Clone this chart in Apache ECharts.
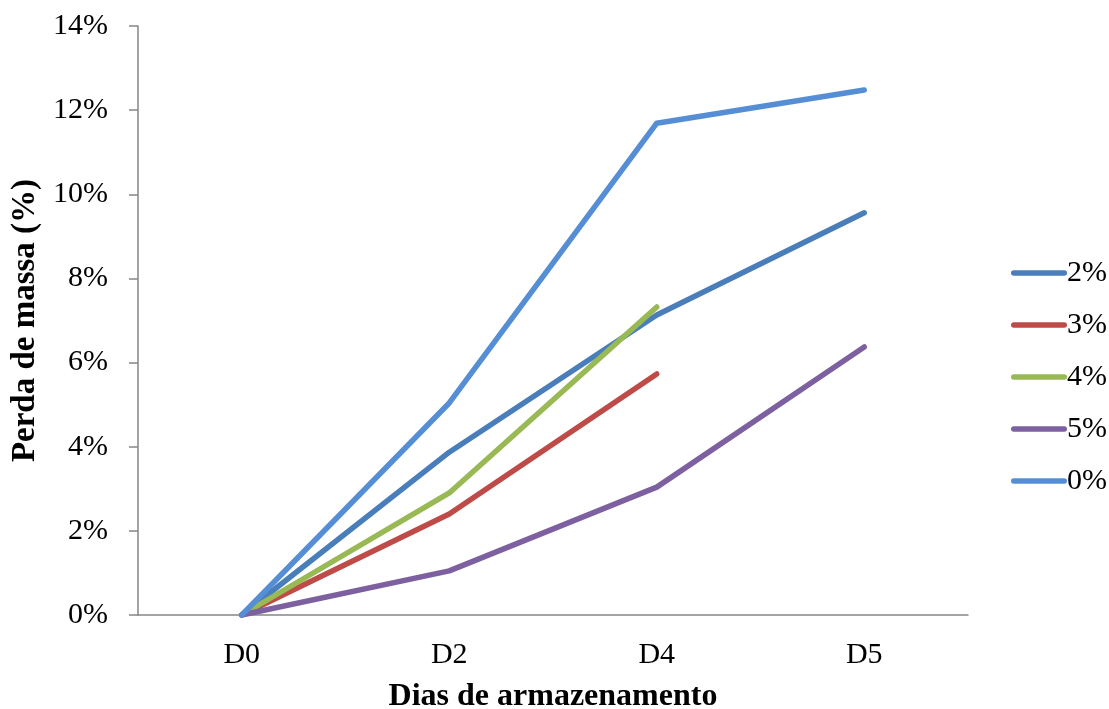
<!DOCTYPE html>
<html>
<head>
<meta charset="utf-8">
<script src="https://cdn.jsdelivr.net/npm/echarts@6/dist/echarts.min.js"></script>
<style>html,body{margin:0;padding:0;background:#fff}#c{width:1109px;height:709px}</style>
</head>
<body>
<div id="c"></div>
<script>
var categories = ['D0', 'D2', 'D4', 'D5'];
var seriesNames = ['2%', '3%', '4%', '5%', '0%'];
var s2 = [0, 3.87, 7.13, 9.56];
var s3 = [0, 2.40, 5.73, null];
var s4 = [0, 2.90, 7.32, null];
var s5 = [0, 1.05, 3.04, 6.37];
var s0 = [0, 5.04, 11.69, 12.48];
var colors = ['#4a7ebb', '#be4b48', '#98b954', '#7d60a0', '#558ed5'];
var values = [s2, s3, s4, s5, s0];

var font = '"Liberation Serif", "Times New Roman", serif';
var chart = echarts.init(document.getElementById('c'), null, {renderer: 'canvas'});
chart.setOption({
  animation: false,
  backgroundColor: '#fff',
  grid: {left: 138, right: 141, top: 26, bottom: 94, containLabel: false, outerBoundsMode: 'none'},
  legend: {
    orient: 'vertical',
    left: 1006,
    top: 253,
    icon: 'path://M2.75,0 L53.25,0 A2.75,2.75 0 0 1 53.25,5.5 L2.75,5.5 A2.75,2.75 0 0 1 2.75,0 Z',
    itemWidth: 56,
    itemHeight: 5.5,
    itemGap: 22,
    textStyle: {fontFamily: font, fontSize: 30, color: '#000', padding: [0, 0, 0, -5]},
    data: seriesNames
  },
  xAxis: {
    type: 'category',
    data: categories,
    boundaryGap: true,
    name: 'Dias de armazenamento',
    nameLocation: 'middle',
    nameGap: 66,
    nameTextStyle: {fontFamily: font, fontSize: 32, fontWeight: 'bold', color: '#000'},
    axisLine: {lineStyle: {color: '#868686', width: 1.5}},
    axisTick: {inside: true, length: 9, lineStyle: {color: '#868686', width: 1.5}},
    axisLabel: {fontFamily: font, fontSize: 30, color: '#000', margin: 25}
  },
  yAxis: {
    type: 'value',
    min: 0, max: 14, interval: 2,
    name: 'Perda de massa (%)',
    nameLocation: 'middle',
    nameGap: 91,
    nameTextStyle: {fontFamily: font, fontSize: 33, fontWeight: 'bold', color: '#000'},
    splitLine: {show: false},
    axisLine: {show: true, lineStyle: {color: '#868686', width: 1.5}},
    axisTick: {show: true, length: 9, lineStyle: {color: '#868686', width: 1.5}},
    axisLabel: {fontFamily: font, fontSize: 30, color: '#000', margin: 30, formatter: '{value}%'}
  },
  series: seriesNames.map(function (n, i) {
    return {
      name: n,
      type: 'line',
      data: values[i],
      symbol: 'none',
      connectNulls: false,
      color: colors[i],
      lineStyle: {width: 5.5, color: colors[i], cap: 'round', join: 'round'},
      itemStyle: {color: colors[i]}
    };
  })
});
</script>
</body>
</html>
